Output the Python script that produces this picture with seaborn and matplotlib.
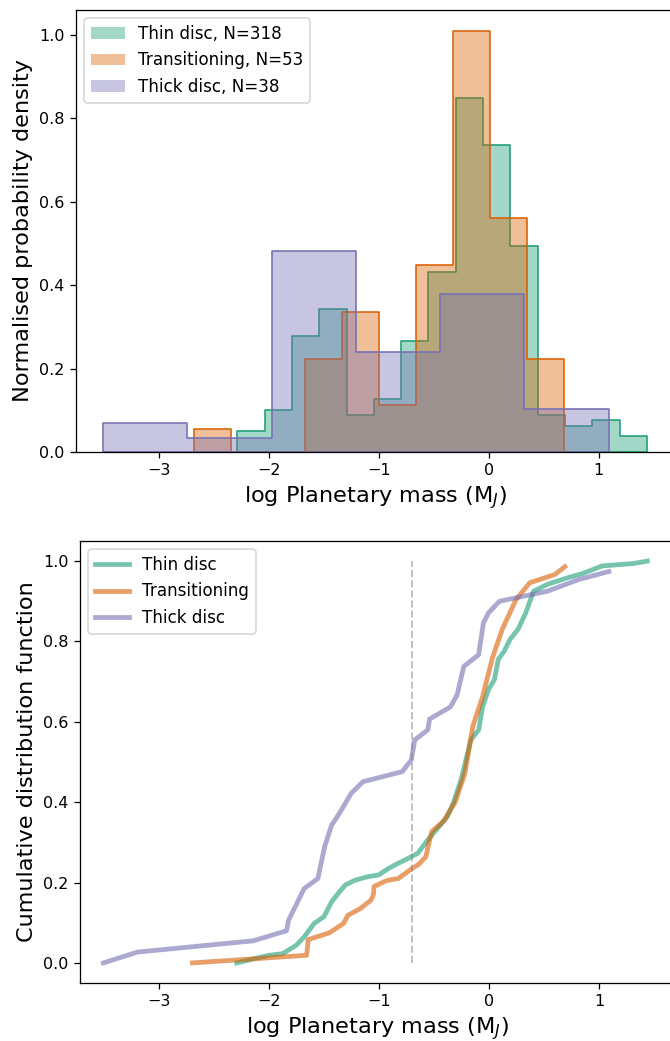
import numpy as np
import matplotlib
matplotlib.use("Agg")
import matplotlib.pyplot as plt
from matplotlib.patches import Patch
from matplotlib.colors import to_rgba
import seaborn as sns

# ---------------- data ----------------
series_names = ["Thin disc", "Transitioning", "Thick disc"]
series_n = [318, 53, 38]

# histogram counts per bin and the bin range of each group (log M / M_J)
thin_counts = [4, 8, 22, 27, 7, 10, 21, 34, 67, 58, 39, 7, 5, 6, 3]
thin_range = (-2.286, 1.436)
trans_counts = [1, 0, 0, 4, 6, 2, 8, 18, 10, 4]
trans_range = (-2.68, 0.686)
thick_counts = [2, 1, 14, 7, 11, 3]
thick_range = (-3.505, 1.09)

thin_cdf_x = [-2.293, -2.0, -1.876, -1.751, -1.679, -1.59, -1.5, -1.43, -1.359, -1.305,
              -1.216, -1.109, -1.002, -0.913, -0.824, -0.735, -0.646, -0.556, -0.467,
              -0.378, -0.325, -0.253, -0.164, -0.093, -0.057, -0.004, 0.05, 0.085, 0.139,
              0.192, 0.264, 0.335, 0.406, 0.531, 0.709, 0.852, 1.03, 1.315, 1.44]
thin_cdf_y = [0.0, 0.019, 0.023, 0.044, 0.065, 0.098, 0.115, 0.152, 0.177, 0.194,
              0.206, 0.214, 0.219, 0.235, 0.248, 0.26, 0.273, 0.306, 0.335,
              0.364, 0.397, 0.456, 0.555, 0.58, 0.638, 0.68, 0.705, 0.755, 0.776,
              0.805, 0.83, 0.871, 0.925, 0.942, 0.958, 0.969, 0.988, 0.994, 1.0]

trans_cdf_x = [-2.695, -1.658, -1.65, -1.644, -1.45, -1.323, -1.28, -1.17, -1.073, -1.05,
               -1.045, -0.93, -0.824, -0.699, -0.64, -0.574, -0.52, -0.414, -0.307,
               -0.218, -0.146, -0.057, 0.032, 0.121, 0.246, 0.371, 0.602, 0.69]
trans_cdf_y = [0.0, 0.019, 0.038, 0.058, 0.075, 0.098, 0.119, 0.135, 0.156, 0.17,
               0.19, 0.205, 0.21, 0.235, 0.245, 0.264, 0.327, 0.352, 0.40,
               0.472, 0.589, 0.663, 0.759, 0.83, 0.904, 0.946, 0.967, 0.986]

thick_cdf_x = [-3.505, -3.195, -2.143, -1.84, -1.822, -1.77, -1.68, -1.555, -1.494, -1.43,
               -1.36, -1.252, -1.145, -0.788, -0.706, -0.674, -0.556, -0.539, -0.35,
               -0.289, -0.228, -0.093, -0.05, -0.004, 0.096, 0.531, 0.816, 1.09]
thick_cdf_y = [0.0, 0.027, 0.055, 0.08, 0.106, 0.135, 0.185, 0.21, 0.289, 0.343,
               0.372, 0.422, 0.451, 0.476, 0.505, 0.555, 0.58, 0.607, 0.637,
               0.667, 0.738, 0.767, 0.846, 0.871, 0.9, 0.925, 0.954, 0.974]

mass_cut = np.log10(0.2)

# ---------------- style ----------------
colors = sns.color_palette("Dark2", 3)
DPI = 115
fig = plt.figure(figsize=(670 / DPI, 1041 / DPI), dpi=DPI)

W, H = 670.0, 1041.0
ax1 = fig.add_axes([76 / W, 1 - 452 / H, (674 - 76) / W, 442 / H])
ax2 = fig.add_axes([80 / W, 1 - 983 / H, (674 - 80) / W, 442 / H])

# ---------------- top: histograms ----------------
hist_sets = [(thin_counts, thin_range), (trans_counts, trans_range), (thick_counts, thick_range)]
handles = []
for (counts, rng), name, n, c in zip(hist_sets, series_names, series_n, colors):
    nb = len(counts)
    edges = np.linspace(rng[0], rng[1], nb + 1)
    centers = 0.5 * (edges[:-1] + edges[1:])
    sns.histplot(x=centers, weights=counts, bins=nb, binrange=rng, stat="density",
                 element="step", fill=True, alpha=0.4, color=c,
                 edgecolor=to_rgba(c, 1.0), linewidth=1.0, ax=ax1)
    handles.append(Patch(facecolor=to_rgba(c, 0.4), edgecolor="none",
                         label=f"{name}, N={n}"))

ax1.set_xlim(-3.752, 1.683)
ax1.set_ylim(0, 1.06)
ax1.set_xticks([-3, -2, -1, 0, 1])
ax1.set_yticks([0.0, 0.2, 0.4, 0.6, 0.8, 1.0])
ax1.set_xlabel("log Planetary mass (M$_J$)", fontsize=14)
ax1.set_ylabel("Normalised probability density", fontsize=14)
ax1.legend(handles=handles, loc="upper left", fontsize=10.5)

# ---------------- bottom: CDFs ----------------
cdf_sets = [(thin_cdf_x, thin_cdf_y), (trans_cdf_x, trans_cdf_y), (thick_cdf_x, thick_cdf_y)]
for (xs, ys), name, c in zip(cdf_sets, series_names, colors):
    sns.lineplot(x=xs, y=ys, sort=False, estimator=None, color=c, alpha=0.6,
                 linewidth=3, label=name, ax=ax2)

ax2.vlines(mass_cut, 0, 1, colors="grey", linestyles="--", alpha=0.5, linewidth=1.2)
ax2.set_xlim(-3.718, 1.683)
ax2.set_ylim(-0.05, 1.05)
ax2.set_xticks([-3, -2, -1, 0, 1])
ax2.set_yticks([0.0, 0.2, 0.4, 0.6, 0.8, 1.0])
ax2.set_xlabel("log Planetary mass (M$_J$)", fontsize=14)
ax2.set_ylabel("Cumulative distribution function", fontsize=14)
ax2.legend(loc="upper left", fontsize=10.5)

fig.savefig("out.png", dpi=DPI)
